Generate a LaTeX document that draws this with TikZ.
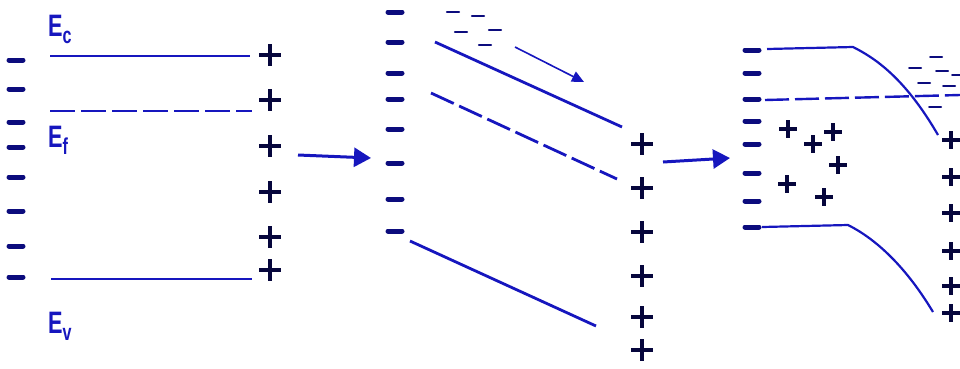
\documentclass[tikz,border=0pt]{standalone}
\usepackage{fontspec}
\setmainfont{Liberation Sans}
\usetikzlibrary{arrows.meta}
\definecolor{bandblue}{RGB}{22,22,190}
\definecolor{negnavy}{RGB}{12,12,125}
\definecolor{posnavy}{RGB}{6,6,60}

\tikzset{
  x=1pt, y=-1pt,
  level/.style={bandblue, line width=2.8pt},
  thinlevel/.style={bandblue, line width=2.2pt},
  fermi/.style={bandblue, line width=2.8pt, dash pattern=on 25pt off 6pt},
  thinfermi/.style={bandblue, line width=2.4pt, dash pattern=on 24pt off 6pt},
  electron/.style={negnavy, line width=2.2pt, line cap=round},
  drift/.style={bandblue, line width=3pt, -{Triangle[length=17pt,width=19pt]}},
  flow/.style={bandblue, line width=1.6pt, -{Triangle[length=12pt,width=11pt]}},
  lbl/.style={bandblue, inner sep=0pt, anchor=base west},
  negsign/.pic={\draw[negnavy, line width=5pt, line cap=round] (-7,0) -- (7,0);},
  possign/.pic={\draw[posnavy, line width=4.5pt] (-11,0) -- (11,0) (0,-11) -- (0,11);},
  smallpos/.pic={\draw[posnavy, line width=3.5pt] (-9,0) -- (9,0) (0,-9) -- (0,9);},
}
\newcommand{\bandlabel}[1]{\scalebox{0.7}[1]{\fontsize{31}{31}\selectfont\bfseries E\raisebox{-7pt}{\fontsize{23}{23}\selectfont #1}}}

\begin{document}
\begin{tikzpicture}
\useasboundingbox (0,0) rectangle (960,368);

% ---------- equilibrium bands ----------
\foreach \y in {60,89,122,147,177,211,246,277}
  \pic at (16,\y) {negsign};
\foreach \y in {55,100,146,192,237,270}
  \pic at (270,\y) {possign};
\draw[level] (50,56) -- (250,56);
\draw[fermi] (50,111) -- (252,111);
\draw[level] (51,279) -- (252,279);
\node[lbl] (ec) at (48,36) {\bandlabel{c}};
\node[lbl] (ef) at (48,147) {\bandlabel{f}};
\node[lbl] (ev) at (48,333) {\bandlabel{v}};

% ---------- first step ----------
\coordinate (s1a) at (298,155);
\coordinate (s1b) at (371,158);
\draw[drift] (s1a) -- (s1b);

% ---------- tilted bands ----------
\foreach \y in {12,42,73,99,129,163,199,231}
  \pic at (395,\y) {negsign};
\foreach \y in {144,188,232,276,317,350}
  \pic at (642,\y) {possign};
\draw[level] (435,42) -- (622,127);
\draw[fermi] (431,93) -- (617,179);
\draw[level] (410,241) -- (596,326);
\foreach \x/\y in {453/12,478/16,461/32,495/30,485/45}
  \draw[electron] (\x-6,\y) -- (\x+6,\y);
\coordinate (fa) at (515,47);
\coordinate (fb) at (584,82);
\draw[flow] (fa) -- (fb);

% ---------- second step ----------
\coordinate (s2a) at (663,162);
\coordinate (s2b) at (730,158);
\draw[drift] (s2a) -- (s2b);

% ---------- bent bands ----------
\foreach \y in {50,73,99,121,144,173,201,227}
  \pic at (752,\y) {negsign};
\foreach \y in {140,177,213,251,286,313}
  \pic at (951,\y) {smallpos};
\foreach \x/\y in {788/129,813/144,833/132,838/165,787/184,824/197}
  \pic at (\x,\y) {smallpos};
\draw[thinlevel] (767,49) -- (853,47) .. controls (875,58) and (905,78) .. (938,135);
\draw[thinfermi] (765,100) -- (960,95);
\draw[thinlevel] (762,227) -- (848,225) .. controls (872,237) and (903,262) .. (933,312);
\foreach \x/\y in {936/57,915/68,942/71,958/75,924/83,949/86,935/107}
  \draw[electron, line width=2pt] (\x-6,\y) -- (\x+6,\y);
\end{tikzpicture}
\end{document}
